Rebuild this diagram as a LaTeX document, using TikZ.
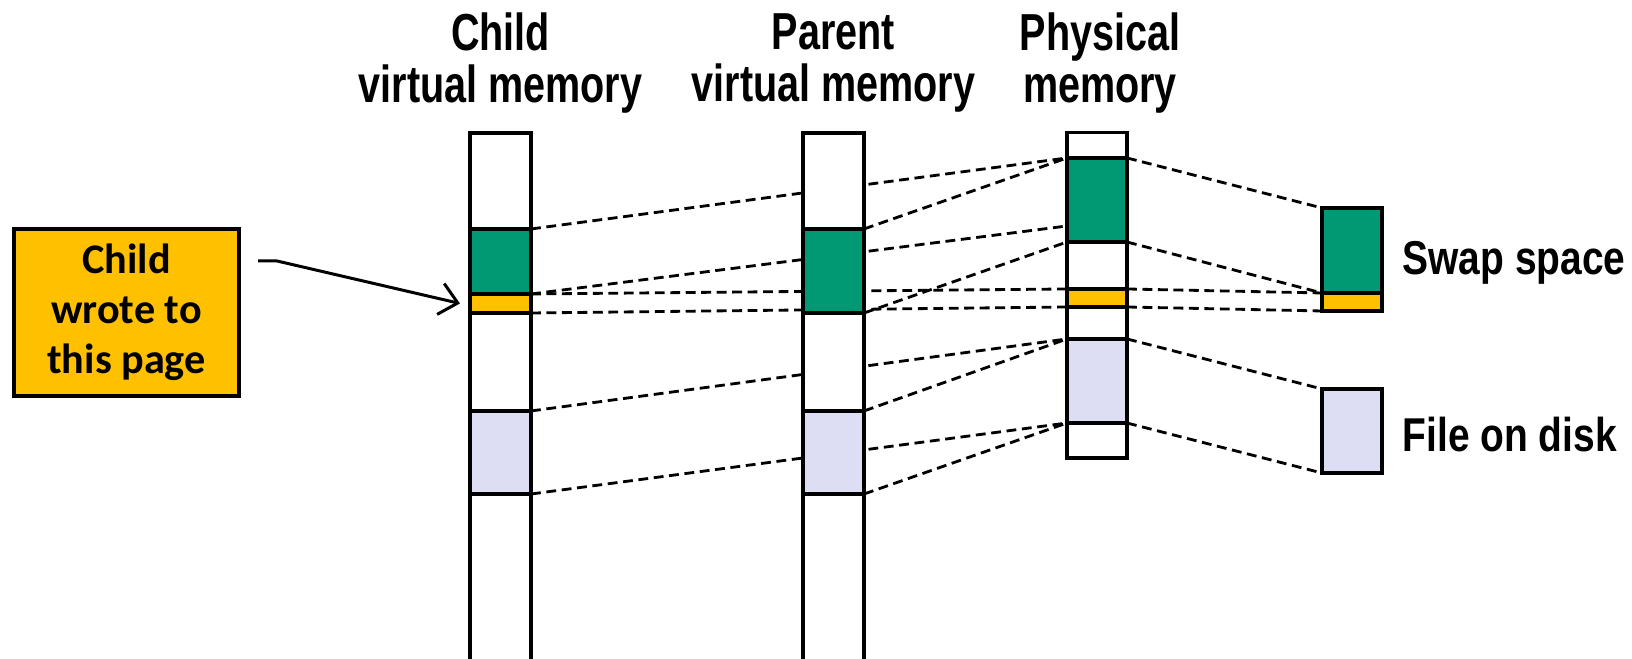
\documentclass[tikz,border=0pt]{standalone}
\usepackage{fontspec}
\usepackage{tikz}
\usetikzlibrary{arrows.meta,positioning,calc,backgrounds}
\tikzset{>=latex}
\newfontfamily\hdfont[FakeStretch=0.76]{Liberation Sans}
\newfontfamily\sdfont[FakeStretch=0.82]{Liberation Sans}
\newfontfamily\boxfont{Carlito}
\definecolor{pggreen}{RGB}{0,153,115}
\definecolor{pgyellow}{RGB}{255,192,0}
\definecolor{pglav}{RGB}{221,221,243}
\tikzset{
  memcol/.style={draw,line width=0.9pt,fill=white},
  pg/.style={draw,line width=0.9pt,inner sep=0pt,outer sep=0pt,minimum width=0.61cm},
  map/.style={line width=0.8pt,dash pattern=on 2.8pt off 1.6pt},
  hd/.style={align=center,inner sep=0pt,font=\hdfont\bfseries\fontsize{14.8}{14.8}\selectfont},
  side/.style={anchor=base west,inner sep=0pt,font=\sdfont\bfseries\fontsize{13.5}{15}\selectfont}
}

\begin{document}
\begin{tikzpicture}[x=0.01cm,y=-0.01cm]
  \useasboundingbox (0,0) rectangle (1632,659);
  \node[hd] (hch) at (500.5,63) {Child\\virtual memory};
  \node[hd] (hpa) at (833.5,63) {Parent\\virtual memory};
  \node[hd] (hph) at (1100,63) {Physical\\memory};

  \draw[memcol] (470,659) |- (531,133) -- (531,659);
  \node[pg,fill=pggreen,minimum height=0.65cm] (chg) at (500.5,261.5) {};
  \node[pg,fill=pgyellow,minimum height=0.19cm] (chy) at (500.5,303.5) {};
  \node[pg,fill=pglav,minimum height=0.83cm] (chl) at (500.5,452.5) {};

  \draw[memcol] (803,659) |- (864,133) -- (864,659);
  \node[pg,fill=pggreen,minimum height=0.84cm] (pag) at (833.5,271) {};
  \node[pg,fill=pglav,minimum height=0.83cm] (pal) at (833.5,452.5) {};

  \node[pg,fill=white,minimum width=0.6cm,minimum height=3.25cm] (phc) at (1097,295.5) {};
  \node[pg,fill=pggreen,minimum width=0.6cm,minimum height=0.84cm] (phg) at (1097,200) {};
  \node[pg,fill=pgyellow,minimum width=0.6cm,minimum height=0.18cm] (phy) at (1097,298) {};
  \node[pg,fill=pglav,minimum width=0.6cm,minimum height=0.84cm] (phl) at (1097,381) {};

  \node[pg,fill=pggreen,minimum width=0.6cm,minimum height=0.85cm] (swg) at (1352,250.5) {};
  \node[pg,fill=pgyellow,minimum width=0.6cm,minimum height=0.18cm] (swy) at (1352,302) {};
  \node[pg,fill=pglav,minimum width=0.6cm,minimum height=0.84cm] (fdl) at (1352,431) {};
  \node[side] (swt) at (1402,275) {Swap space};
  \node[side] (fdt) at (1402,452) {File on disk};

  \node[draw,line width=0.9pt,fill=pgyellow,inner sep=0pt,minimum width=2.25cm,minimum height=1.67cm,
    align=center,font=\boxfont\bfseries\fontsize{12}{14.2}\selectfont] (note) at (126.5,312.5) {Child\\wrote to\\this page};
  \coordinate (wr) at (258,261);
  \draw[line width=0.85pt,-{Straight Barb[length=5pt,width=9pt]}] (wr) -- ++(19,0) -- ([xshift=-0.1cm]chy.west);

  \begin{scope}[on background layer]
    \draw[map] (chg.north east) -- (phg.north west);
    \draw[map] (chg.south east) -- ([yshift=0.16cm]phg.south west);
    \draw[map] (chy.north east) -- (phy.north west);
    \draw[map] (chy.south east) -- (phy.south west);
    \draw[map] (chl.north east) -- (phl.north west);
    \draw[map] (chl.south east) -- (phl.south west);
    \draw[map] (pag.north east) -- (phg.north west);
    \draw[map] (pag.south east) -- (phg.south west);
    \draw[map] (pal.north east) -- (phl.north west);
    \draw[map] (pal.south east) -- (phl.south west);
    \draw[map] (phg.north east) -- (swg.north west);
    \draw[map] (phg.south east) -- (swg.south west);
    \draw[map] (phy.north east) -- (swy.north west);
    \draw[map] (phy.south east) -- (swy.south west);
    \draw[map] (phl.north east) -- (fdl.north west);
    \draw[map] (phl.south east) -- (fdl.south west);
  \end{scope}
\end{tikzpicture}
\end{document}
